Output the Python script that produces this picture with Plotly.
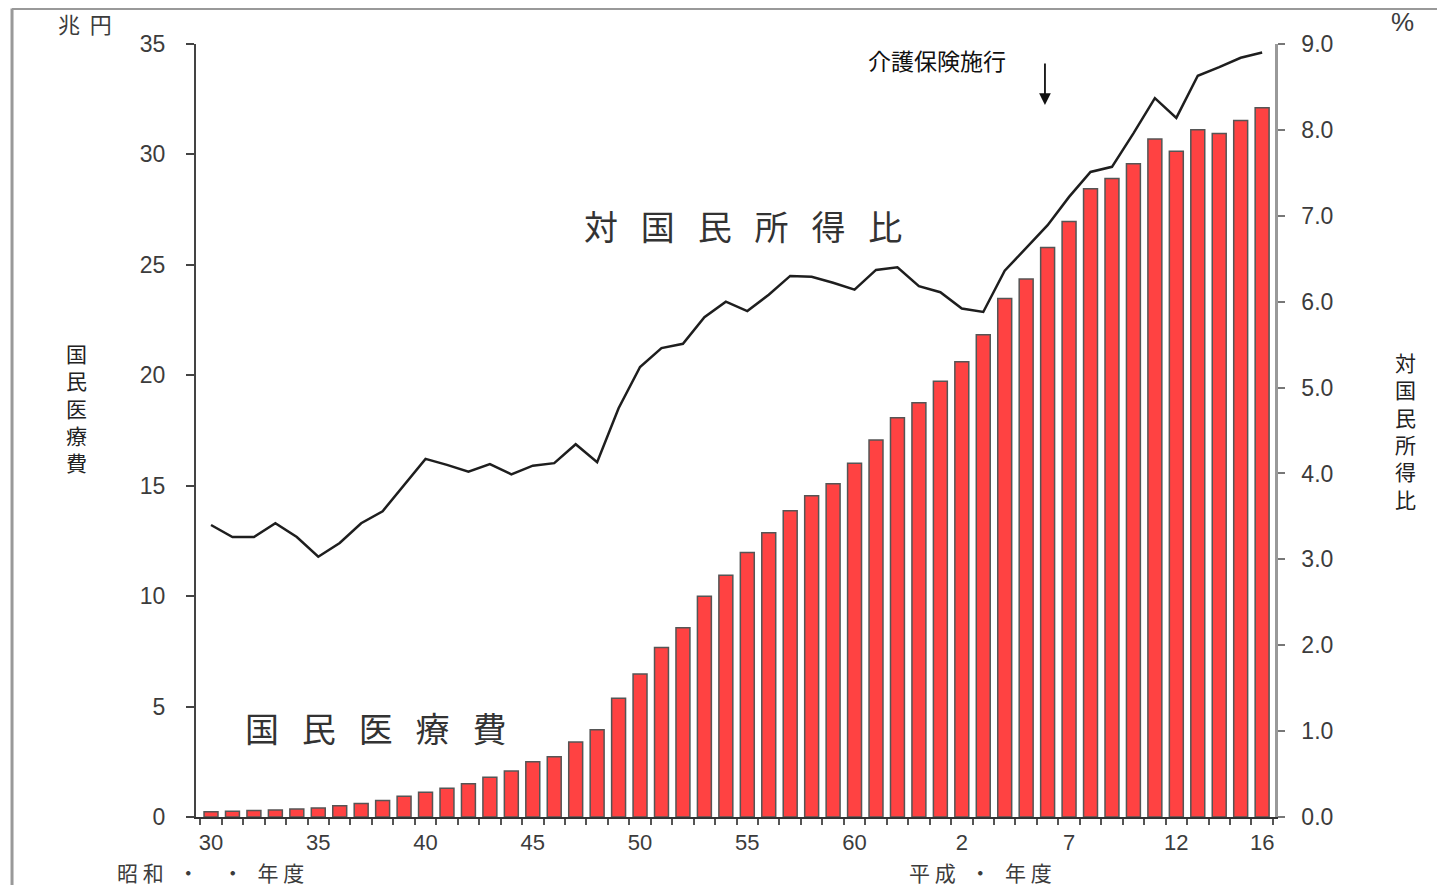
import plotly.graph_objects as go

# Fiscal years: Showa 30 (1955) .. Showa 63, Heisei 1 .. Heisei 16 (2004)
years = [f"S{y}" for y in range(30, 64)] + [f"H{y}" for y in range(1, 17)]

# National medical expenditure (trillion yen)
medical_cost = [0.24, 0.26, 0.29, 0.32, 0.36, 0.41, 0.51, 0.61, 0.75, 0.94,
                1.12, 1.30, 1.51, 1.80, 2.08, 2.50, 2.73, 3.40, 3.95, 5.38,
                6.48, 7.67, 8.57, 10.00, 10.95, 11.98, 12.87, 13.87, 14.54, 15.09,
                16.02, 17.07, 18.08, 18.76, 19.73, 20.61, 21.83, 23.48, 24.36, 25.79,
                26.96, 28.45, 28.91, 29.58, 30.70, 30.14, 31.12, 30.95, 31.54, 32.11]

# Ratio to national income (%)
income_ratio = [3.40, 3.26, 3.26, 3.42, 3.26, 3.03, 3.19, 3.42, 3.56, 3.87,
                4.17, 4.10, 4.02, 4.11, 3.99, 4.09, 4.12, 4.34, 4.13, 4.76,
                5.24, 5.46, 5.51, 5.82, 6.00, 5.89, 6.08, 6.30, 6.29, 6.22,
                6.14, 6.37, 6.40, 6.18, 6.11, 5.92, 5.88, 6.36, 6.62, 6.89,
                7.22, 7.51, 7.57, 7.96, 8.37, 8.14, 8.63, 8.73, 8.84, 8.90]

tick_years = ["S30", "S35", "S40", "S45", "S50", "S55", "S60", "H2", "H7", "H12", "H16"]
tick_labels = ["30", "35", "40", "45", "50", "55", "60", "2", "7", "12", "16"]

idx = list(range(len(years)))
tick_idx = [years.index(t) for t in tick_years]

JP = "Noto Sans CJK JP"
NUM = "Liberation Sans, Arial, sans-serif"
GRAY = "#3c3c3c"
NB = "\u00a0"


def spaced(text, n):
    return (NB * n).join(list(text))


fig = go.Figure()
fig.add_trace(go.Bar(
    x=idx, y=medical_cost, width=0.65,
    marker=dict(color="#ff4242", line=dict(color="#555555", width=1.5)),
    name="国民医療費", showlegend=False, yaxis="y",
))
fig.add_trace(go.Scatter(
    x=idx, y=income_ratio, mode="lines",
    line=dict(color="#1e1e1e", width=2.5),
    name="対国民所得比", showlegend=False, yaxis="y2",
))

fig.update_layout(
    width=1445, height=885,
    margin=dict(l=188, r=178, t=36, b=76),
    paper_bgcolor="white", plot_bgcolor="white",
    xaxis=dict(
        range=[-0.7, 49.6],
        tickmode="array", tickvals=tick_idx, ticktext=tick_labels,
        ticks="", showgrid=False, zeroline=False,
        showline=True, linecolor="#333333", linewidth=2,
        tickfont=dict(family=NUM, size=22, color=GRAY),
        ticklabelstandoff=5,
        minor=dict(tickmode="array", tickvals=[i - 0.5 for i in idx] + [49.5],
                   ticks="outside", ticklen=6, tickcolor="#555555", tickwidth=1.5),
    ),
    yaxis=dict(
        range=[0, 35], tickvals=[0, 5, 10, 15, 20, 25, 30, 35],
        ticks="outside", ticklen=8, tickcolor="#444444", tickwidth=1.5,
        showgrid=False, zeroline=False,
        showline=True, linecolor="#444444", linewidth=2,
        tickfont=dict(family=NUM, size=23, color=GRAY),
        ticklabelstandoff=16,
    ),
    yaxis2=dict(
        range=[0, 9], overlaying="y", side="right",
        tickvals=[0, 1, 2, 3, 4, 5, 6, 7, 8, 9],
        ticktext=[f"{v:.1f}" for v in range(10)],
        ticks="outside", ticklen=7, tickcolor="#777777", tickwidth=1.5,
        showgrid=False, zeroline=False,
        showline=True, linecolor="#999999", linewidth=2.5,
        tickfont=dict(family=NUM, size=23, color=GRAY),
        ticklabelstandoff=12,
    ),
)


def note(text, x, y, size, color=GRAY, family=JP):
    fig.add_annotation(text=text, x=x, y=y, xref="paper", yref="paper",
                       showarrow=False, xanchor="center", yanchor="middle",
                       font=dict(family=family, size=size, color=color))


note(spaced("兆円", 2), -0.1029, 1.027, 22)
note("%", 1.1186, 1.0285, 26, family=NUM)
note("介護保険施行", 0.6867, 0.9793, 23, color="#111111")
note(spaced("対国民所得比", 3), 0.5070, 0.7646, 34, color="#333333")
note(spaced("国民医療費", 3), 0.1659, 0.1164, 34, color="#333333")
note("<br>".join("国民医療費"), -0.1103, 0.5304, 21, color="#222222")
note("<br>".join("対国民所得比"), 1.1205, 0.5006, 21, color="#222222")
note("昭" + NB + "和" + NB * 3 + "・" + NB * 5 + "・" + NB * 3 + "年" + NB + "度",
     0.0130, -0.0715, 21)
note("平" + NB + "成" + NB * 3 + "・" + NB * 3 + "年" + NB + "度",
     0.7266, -0.0715, 21)

# arrow marking introduction of long-term care insurance
fig.add_annotation(x=0.7868, y=0.9211, xref="paper", yref="paper",
                   ax=0, ay=-43, text="", showarrow=True,
                   arrowhead=2, arrowsize=1.3, arrowwidth=1.8, arrowcolor="#111111")

# outer frame lines (left and top)
fig.add_shape(type="line", xref="paper", yref="paper",
              x0=-0.1705, x1=-0.1705, y0=-0.1, y1=1.046,
              line=dict(color="#999999", width=3))
fig.add_shape(type="line", xref="paper", yref="paper",
              x0=-0.1705, x1=1.17, y0=1.046, y1=1.046,
              line=dict(color="#999999", width=3))

fig.write_html("out.html")
